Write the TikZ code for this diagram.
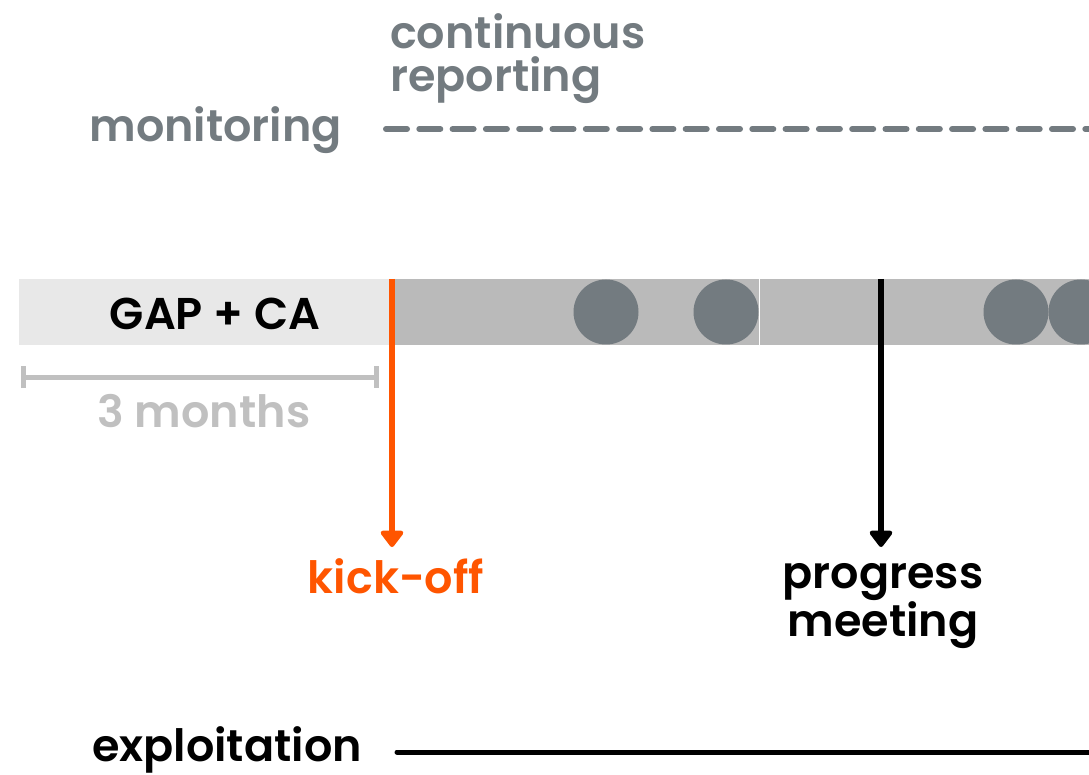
\documentclass[tikz,border=0pt]{standalone}
\usepackage{fontspec}
\setmainfont{Poppins}[UprightFont=* SemiBold, BoldFont=* Bold]
\usetikzlibrary{arrows.meta,positioning}
\definecolor{textgray}{HTML}{737B80}
\definecolor{lightbar}{HTML}{E8E8E8}
\definecolor{darkbar}{HTML}{BABABA}
\definecolor{dotgray}{HTML}{737B80}
\definecolor{kickorange}{HTML}{FF5500}
\definecolor{spangray}{HTML}{C0C0C0}
\begin{document}
\begin{tikzpicture}[x=1pt,y=-1pt,
    lbl/.style = {font=\fontsize{44.5}{43}\selectfont, inner sep=0pt},
    bar/.style = {minimum height=66pt, inner sep=0pt, outer sep=0pt},
    dot/.style = {circle, fill=dotgray, minimum size=65pt, inner sep=0pt},
    milestone/.style = {line width=6pt, -{Triangle[width=26pt,length=18pt,round]}}]
    \useasboundingbox (0,0) rectangle (1089,775);

    % timeline bars
    \node[bar, fill=lightbar, minimum width=373pt] (gap) at (205.5,312) {};
    \node[bar, fill=darkbar, minimum width=697pt, anchor=west] (proj) at (gap.east) {};
    \node[lbl, anchor=base] (gaplbl) at (215,330) {GAP + CA};
    \draw[white, line width=0.8pt] (759,279) -- (759,345);
    \foreach \x [count=\i] in {606,726,1016,1081}
        \node[dot] (dot\i) at (\x,312) {};

    % duration of gap analysis
    \coordinate (spanl) at (21,377);
    \coordinate (spanr) at (379,377);
    \draw[spangray, line width=5pt, line cap=round, {Bar[width=22pt]}-{Bar[width=22pt]}] (spanl) -- (spanr);
    \node[lbl, text=spangray, anchor=base] (months) at (204,427) {3 months};

    % monitoring
    \node[lbl, text=textgray, anchor=base east] (monitoring) at (342,142) {monitoring};
    \node[lbl, text=textgray, anchor=north west, align=left] (reporting) at (390,13) {continuous\\reporting};
    \coordinate (monstart) at (386,129);
    \coordinate (monend) at (1095,129);
    \draw[textgray, line width=6pt, line cap=round, dash pattern=on 21pt off 12.3pt] (monstart) -- (monend);

    % milestones
    \node[lbl, text=kickorange, anchor=base] (kickoff) at (396,593) {kick-off};
    \coordinate (kotip) at (392,547);
    \draw[milestone, kickorange] (gap.north east) -- (kotip);
    \node[lbl, anchor=north, align=center] (progress) at (883,563) {progress\\meeting};
    \coordinate (pmtop) at (881,279);
    \coordinate (pmtip) at (881,547);
    \draw[milestone, black] (pmtop) -- (pmtip);

    % exploitation
    \node[lbl, anchor=base west] (exploitation) at (92,761) {exploitation};
    \coordinate (expstart) at (397,752);
    \coordinate (expend) at (1095,752);
    \draw[line width=5pt, line cap=round] (expstart) -- (expend);
\end{tikzpicture}
\end{document}
